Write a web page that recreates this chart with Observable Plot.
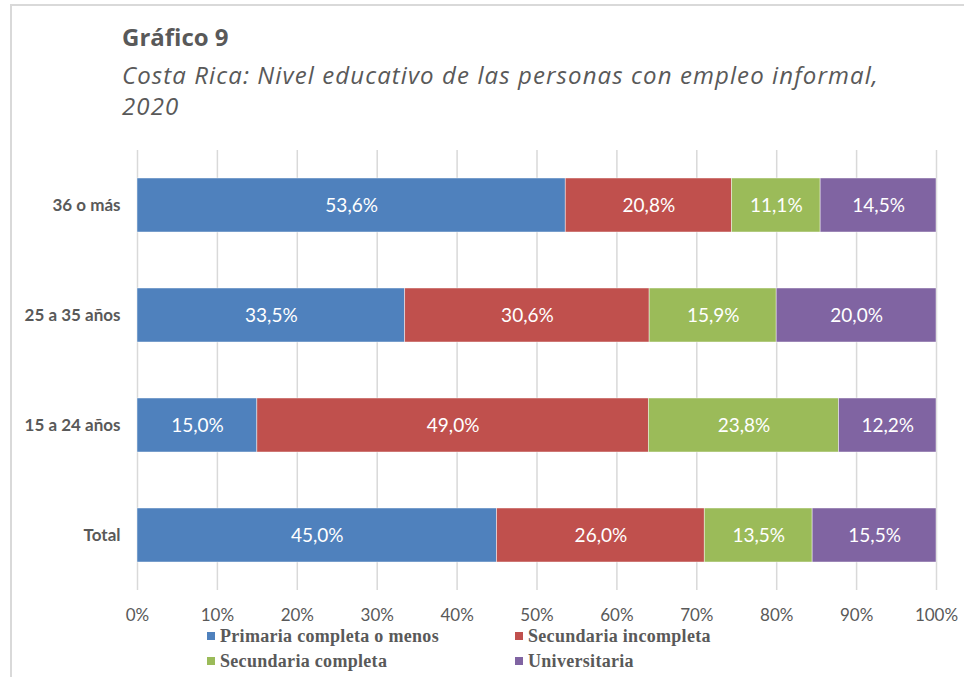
<!DOCTYPE html>
<html>
<head>
<meta charset="utf-8">
<script src="https://cdn.jsdelivr.net/npm/d3@7"></script>
<script src="https://cdn.jsdelivr.net/npm/@observablehq/plot@0.6"></script>
<style>
  body { margin: 0; background: #fff; }
  #wrap { position: relative; width: 964px; height: 677px; background: #fff; overflow: hidden; }
  #frame { position: absolute; left: 10px; top: 4px; width: 970px; height: 690px; border-left: 2px solid #d9d9d9; border-top: 2px solid #d9d9d9; }
  #title { position: absolute; left: 122px; top: 20px; font-family: "Open Sans", sans-serif; font-weight: 700; font-size: 24px; color: #595959; line-height: 34px; }
  #subtitle { position: absolute; left: 122px; top: 59px; font-family: "Open Sans", sans-serif; font-style: italic; font-size: 24px; letter-spacing: 1.1px; color: #595959; line-height: 31px; }
  #chart { position: absolute; left: 0; top: 140px; }
  #chart svg [aria-label="y-axis tick label"] { font-weight: bold; }
  .leg { position: absolute; font-family: "Liberation Serif", serif; font-weight: bold; font-size: 18px; color: #595959; letter-spacing: 0.3px; white-space: nowrap; line-height: 18px; }
  .sw { position: absolute; width: 8px; height: 8px; }
</style>
</head>
<body>
<div id="wrap">
  <div id="frame"></div>
  <div id="title">Gráfico 9</div>
  <div id="subtitle">Costa Rica: Nivel educativo de las personas con empleo informal,<br>2020</div>
  <div id="chart"></div>
  <div id="legend"></div>
</div>
<script>
const groups = ["36 o más", "25 a 35 años", "15 a 24 años", "Total"];
const categories = ["Primaria completa o menos", "Secundaria incompleta", "Secundaria completa", "Universitaria"];
const primaria = [53.6, 33.5, 15.0, 45.0];
const secundariaIncompleta = [20.8, 30.6, 49.0, 26.0];
const secundariaCompleta = [11.1, 15.9, 23.8, 13.5];
const universitaria = [14.5, 20.0, 12.2, 15.5];
const colors = ["#4F81BD", "#C0504D", "#9BBB59", "#8064A2"];
const xTicks = [0, 10, 20, 30, 40, 50, 60, 70, 80, 90, 100];

const series = [primaria, secundariaIncompleta, secundariaCompleta, universitaria];
const data = [];
groups.forEach((g, i) => {
  categories.forEach((c, j) => {
    data.push({ group: g, cat: c, value: series[j][i] });
  });
});
const fmt = v => v.toFixed(1).replace(".", ",") + "%";

const plot = Plot.plot({
  width: 964,
  height: 500,
  marginTop: 10,
  marginBottom: 50,
  marginLeft: 137,
  marginRight: 28,
  style: { fontFamily: "Lato, sans-serif", background: "transparent" },
  x: { domain: [0, 100], axis: null },
  y: { domain: groups, paddingInner: 0.51, paddingOuter: 0.255, axis: null },
  color: { domain: categories, range: colors },
  marks: [
    Plot.gridX(xTicks, { stroke: "#d9d9d9", strokeOpacity: 1, strokeWidth: 1.5 }),
    Plot.axisX({ ticks: xTicks, tickFormat: d => d + "%", tickSize: 0, tickPadding: 18, fontSize: 17, fill: "#595959", label: null }),
    Plot.axisY({ tickSize: 0, tickPadding: 17, fontSize: 17, fill: "#595959", label: null }),
    Plot.barX(data, Plot.stackX({ x: "value", y: "group", z: "cat", fill: "cat", order: categories, stroke: "white", strokeWidth: 0.75, strokeOpacity: 0.6 })),
    Plot.text(data, Plot.stackX({ x: "value", y: "group", z: "cat", order: categories, text: d => fmt(d.value), fill: "white", fontSize: 19 }))
  ]
});
document.getElementById("chart").appendChild(plot);

const legend = document.getElementById("legend");
const legPos = [[207, 632], [515, 632], [207, 657], [515, 657]];
categories.forEach((c, i) => {
  const [x, y] = legPos[i];
  const sw = document.createElement("div");
  sw.className = "sw";
  sw.style.left = x + "px";
  sw.style.top = y + "px";
  sw.style.background = colors[i];
  legend.appendChild(sw);
  const t = document.createElement("div");
  t.className = "leg";
  t.style.left = (x + 13) + "px";
  t.style.top = (y - 5) + "px";
  t.textContent = c;
  legend.appendChild(t);
});
</script>
</body>
</html>
